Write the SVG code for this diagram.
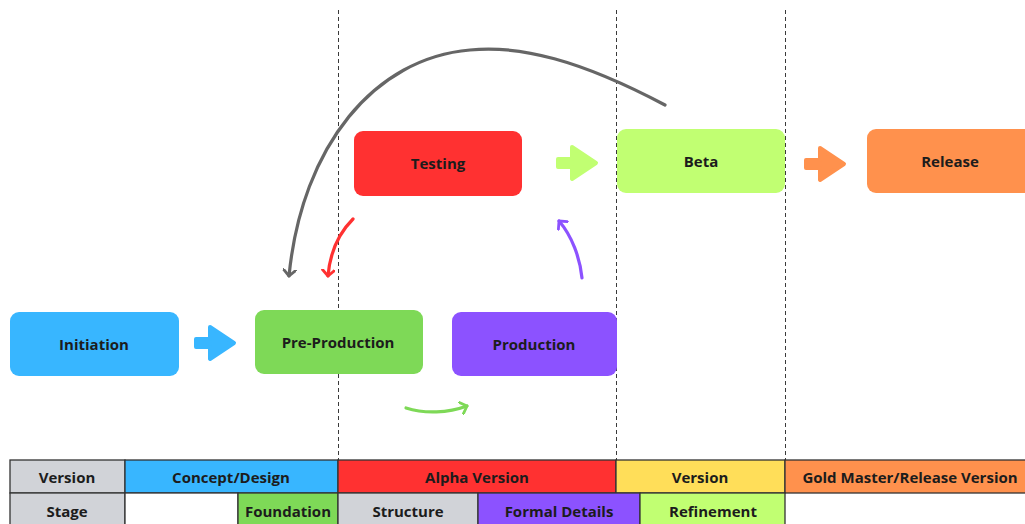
<svg xmlns="http://www.w3.org/2000/svg" width="1025" height="524" viewBox="0 0 1025 524">
  <style>
    .lbl { font-family: "Open Sans", "Liberation Sans", sans-serif; font-weight: 700; font-size: 15px; fill: #1c1c1c; text-anchor: middle; dominant-baseline: central; }
    .guide { stroke: #3a3a3a; stroke-width: 1; stroke-dasharray: 4 3; fill: none; }
    .cell { stroke: #333333; stroke-width: 1.3; }
    .curve { fill: none; stroke-width: 3.2; stroke-linecap: round; }
  </style>
  <defs>
    <!-- block arrow shape, origin at the tail centre -->
    <path id="blockArrow" d="M2,-4 H16 V-16 L40,0 L16,16 V4 H2 Z" stroke-linejoin="round" stroke-width="4"/>
    <marker id="headGray" viewBox="0 0 14 14" refX="7" refY="7" markerWidth="14" markerHeight="14" markerUnits="userSpaceOnUse" orient="auto">
      <path d="M1,1 L7,7 L1,13" fill="none" stroke="#666666" stroke-width="2.8" stroke-linecap="round" stroke-linejoin="round"/>
    </marker>
    <marker id="headRed" viewBox="0 0 14 14" refX="7" refY="7" markerWidth="14" markerHeight="14" markerUnits="userSpaceOnUse" orient="auto">
      <path d="M1,1 L7,7 L1,13" fill="none" stroke="#ff3131" stroke-width="2.8" stroke-linecap="round" stroke-linejoin="round"/>
    </marker>
    <marker id="headPurple" viewBox="0 0 14 14" refX="7" refY="7" markerWidth="14" markerHeight="14" markerUnits="userSpaceOnUse" orient="auto">
      <path d="M1,1 L7,7 L1,13" fill="none" stroke="#8c52ff" stroke-width="2.8" stroke-linecap="round" stroke-linejoin="round"/>
    </marker>
    <marker id="headGreen" viewBox="0 0 14 14" refX="7" refY="7" markerWidth="14" markerHeight="14" markerUnits="userSpaceOnUse" orient="auto">
      <path d="M1,1 L7,7 L1,13" fill="none" stroke="#7ed957" stroke-width="2.8" stroke-linecap="round" stroke-linejoin="round"/>
    </marker>
  </defs>

  <rect width="1025" height="524" fill="#ffffff"/>

  <!-- phase dividers -->
  <g id="dividers">
    <line class="guide" x1="338.5" y1="10" x2="338.5" y2="460"/>
    <line class="guide" x1="616.5" y1="10" x2="616.5" y2="460"/>
    <line class="guide" x1="785.5" y1="10" x2="785.5" y2="460"/>
  </g>

  <!-- stage nodes -->
  <g id="node-testing">
    <rect x="354" y="131" width="168" height="65" rx="9" fill="#ff3131"/>
    <text class="lbl" x="438" y="163">Testing</text>
  </g>
  <g id="node-beta">
    <rect x="617" y="129" width="168" height="64" rx="9" fill="#c1ff72"/>
    <text class="lbl" x="701" y="161">Beta</text>
  </g>
  <g id="node-release">
    <rect x="867" y="129" width="175" height="64" rx="9" fill="#ff914d"/>
    <text class="lbl" x="950" y="161">Release</text>
  </g>
  <g id="node-initiation">
    <rect x="10" y="312" width="169" height="64" rx="9" fill="#38b6ff"/>
    <text class="lbl" x="94" y="344">Initiation</text>
  </g>
  <g id="node-preproduction">
    <rect x="255" y="310" width="168" height="64" rx="9" fill="#7ed957"/>
    <text class="lbl" x="338" y="342">Pre-Production</text>
  </g>
  <g id="node-production">
    <rect x="452" y="312" width="165" height="64" rx="9" fill="#8c52ff"/>
    <text class="lbl" x="534" y="344">Production</text>
  </g>

  <!-- connectors -->
  <g id="connectors">
    <use href="#blockArrow" transform="translate(194,343)" fill="#38b6ff" stroke="#38b6ff"/>
    <use href="#blockArrow" transform="translate(556,163)" fill="#c1ff72" stroke="#c1ff72"/>
    <use href="#blockArrow" transform="translate(804,164)" fill="#ff914d" stroke="#ff914d"/>
    <path class="curve" stroke="#666666" marker-end="url(#headGray)" d="M665,105 C580,60 520,45 470,50 C375,58 302,145 289,276"/>
    <path class="curve" stroke="#ff3131" marker-end="url(#headRed)" d="M353,219 C338,234 330,252 328,276"/>
    <path class="curve" stroke="#8c52ff" marker-end="url(#headPurple)" d="M582,278 C580,258 572,236 559,221"/>
    <path class="curve" stroke="#7ed957" marker-end="url(#headGreen)" d="M406,408 C425,414 448,413 467,406"/>
  </g>

  <!-- version / stage table -->
  <g id="table">
    <rect class="cell" x="10" y="460" width="115" height="33" fill="#d1d3d8"/>
    <rect class="cell" x="125" y="460" width="213" height="33" fill="#38b6ff"/>
    <rect class="cell" x="338" y="460" width="278" height="33" fill="#ff3131"/>
    <rect class="cell" x="616" y="460" width="169" height="33" fill="#ffde59"/>
    <rect class="cell" x="785" y="460" width="245" height="33" fill="#ff914d"/>
    <rect class="cell" x="10" y="493" width="115" height="35" fill="#d1d3d8"/>
    <rect class="cell" x="125" y="493" width="113" height="35" fill="#ffffff"/>
    <rect class="cell" x="238" y="493" width="100" height="35" fill="#7ed957"/>
    <rect class="cell" x="338" y="493" width="140" height="35" fill="#d1d3d8"/>
    <rect class="cell" x="478" y="493" width="162" height="35" fill="#8c52ff"/>
    <rect class="cell" x="640" y="493" width="145" height="35" fill="#c1ff72"/>
    <text class="lbl" x="67" y="477">Version</text>
    <text class="lbl" x="231" y="477">Concept/Design</text>
    <text class="lbl" x="477" y="477">Alpha Version</text>
    <text class="lbl" x="700" y="477">Version</text>
    <text class="lbl" x="910" y="477">Gold Master/Release Version</text>
    <text class="lbl" x="67" y="511">Stage</text>
    <text class="lbl" x="288" y="511">Foundation</text>
    <text class="lbl" x="408" y="511">Structure</text>
    <text class="lbl" x="559" y="511">Formal Details</text>
    <text class="lbl" x="713" y="511">Refinement</text>
  </g>
</svg>
